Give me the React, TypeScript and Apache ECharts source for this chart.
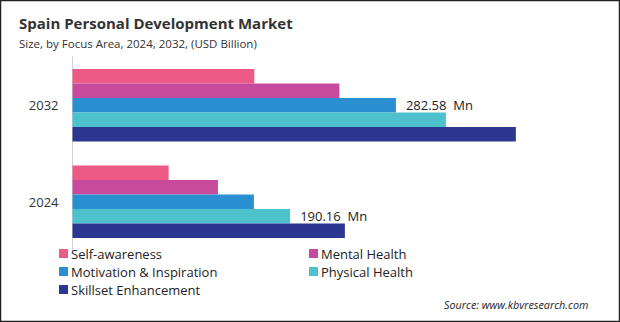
import React, { useEffect, useRef } from "react";
import * as echarts from "echarts";

const categories = ["2024", "2032"];
const seriesNames = [
  "Self-awareness",
  "Mental Health",
  "Motivation & Inspiration",
  "Physical Health",
  "Skillset Enhancement",
];
const selfAwareness = [84.0, 158.9];
const mentalHealth = [127.1, 233.2];
const motivation = [158.5, 282.58];
const physicalHealth = [190.16, 326.3];
const skillset = [238.0, 387.4];
const colors = ["#EE5A86", "#C84A9C", "#2A8FD0", "#4DC1CC", "#2B3791"];
// label text per series per category ("" = no label)
const labelTexts = [
  ["", ""],
  ["", ""],
  ["", "282.58  Mn"],
  ["190.16  Mn", ""],
  ["", ""],
];

export default function App() {
  const ref = useRef<HTMLDivElement>(null);
  useEffect(() => {
    if (!ref.current) return;
    const chart = echarts.init(ref.current, undefined, { renderer: "svg" });
    const values = [selfAwareness, mentalHealth, motivation, physicalHealth, skillset];
    const font = "'Open Sans', 'Noto Sans', sans-serif";
    const legendPos = [
      { left: 59, top: 247 },
      { left: 309, top: 247 },
      { left: 59, top: 265 },
      { left: 309, top: 265 },
      { left: 59, top: 283 },
    ];
    chart.setOption({
      animation: false,
      backgroundColor: "#ffffff",
      title: [
        {
          text: "Spain Personal Development Market",
          left: 14,
          top: 10,
          textStyle: { fontFamily: font, fontSize: 15, fontWeight: "bold", color: "#333333" },
        },
        {
          text: "Size, by Focus Area, 2024, 2032, (USD Billion)",
          left: 14,
          top: 32,
          textStyle: { fontFamily: font, fontSize: 11.5, fontWeight: "normal", color: "#333333" },
        },
        {
          text: "Source: www.kbvresearch.com",
          left: 439,
          top: 294,
          textStyle: { fontFamily: font, fontSize: 10.8, fontStyle: "italic", fontWeight: "normal", color: "#222222" },
        },
      ],
      legend: seriesNames.map((n, i) => ({
        data: [n],
        left: legendPos[i].left,
        top: legendPos[i].top,
        orient: "horizontal",
        itemWidth: 9,
        itemHeight: 9,
        itemGap: 4,
        icon: "rect",
        padding: 0,
        textStyle: { fontFamily: font, fontSize: 13, color: "#222222", padding: [0, 0, 0, -2] },
      })),
      grid: { left: 72.5, top: 57, width: 515, height: 193, containLabel: false },
      xAxis: {
        type: "value",
        min: 0,
        max: 450,
        show: false,
        splitLine: { show: false },
      },
      yAxis: {
        type: "category",
        data: categories,
        axisLine: { show: true, lineStyle: { color: "#d0d0d0", width: 1 } },
        axisTick: { show: false },
        axisLabel: { fontFamily: font, fontSize: 13, color: "#333333", margin: 14 },
      },
      series: seriesNames.map((n, i) => ({
        name: n,
        type: "bar",
        barGap: "0%",
        barCategoryGap: "25%",
        itemStyle: { color: colors[i] },
        data: values[i].map((v, j) => ({
          value: v,
          label: {
            show: labelTexts[i][j] !== "",
            position: "right",
            distance: 10,
            formatter: labelTexts[i][j],
            fontFamily: font,
            fontSize: 13,
            color: "#222222",
          },
        })),
      })),
      graphic: [
        {
          type: "rect",
          shape: { x: 0.5, y: 0.5, width: 619, height: 321 },
          style: { fill: "none", stroke: "#222222", lineWidth: 1.5 },
          silent: true,
        },
      ],
    });
    return () => chart.dispose();
  }, []);
  return (
    <div style={{ position: "fixed", left: 0, top: 0, width: 620, height: 322 }}>
      <div ref={ref} style={{ width: 620, height: 322 }} />
    </div>
  );
}
